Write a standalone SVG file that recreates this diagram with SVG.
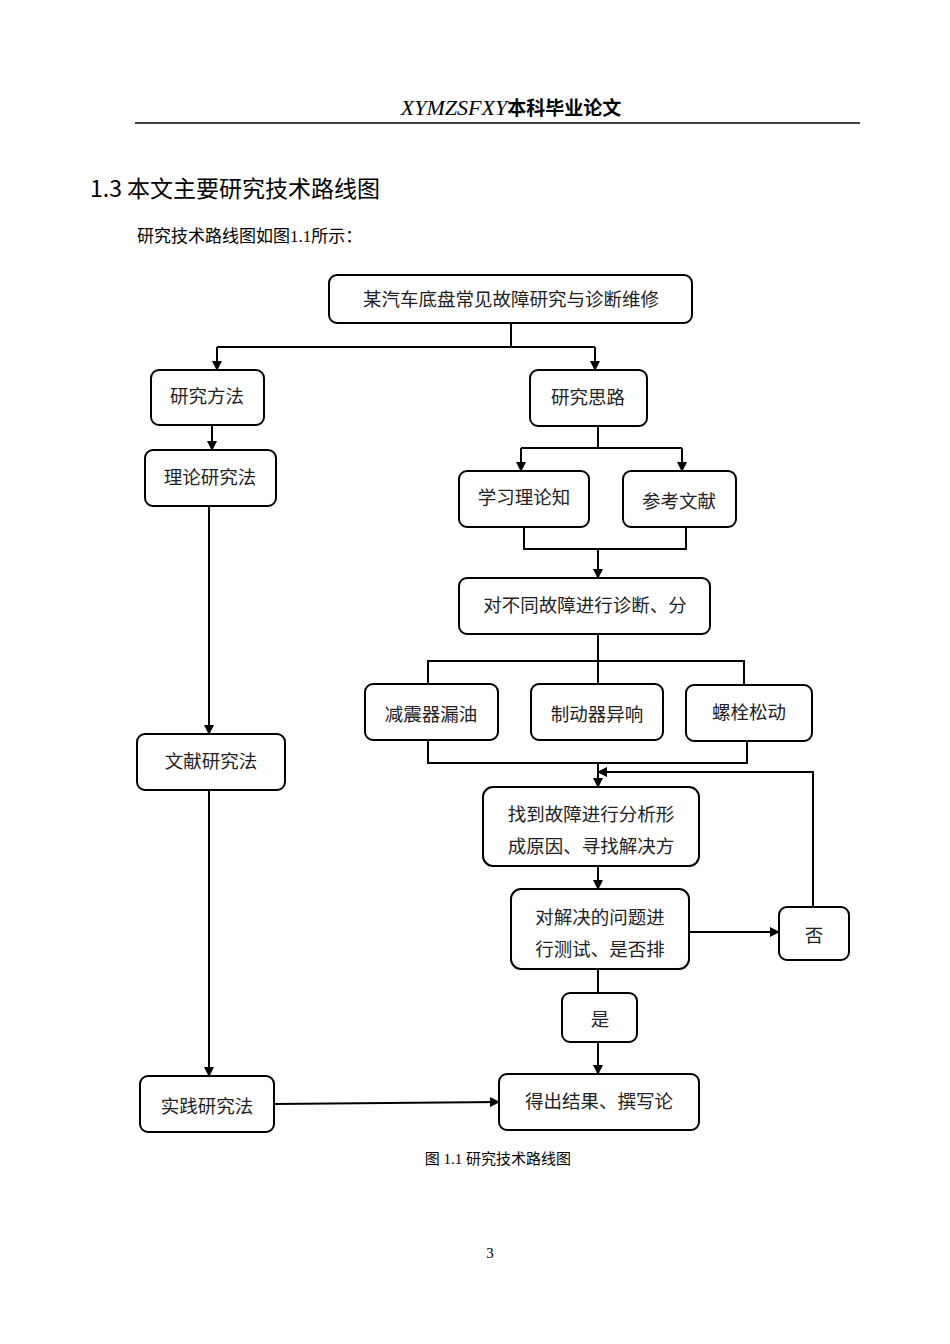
<svg xmlns="http://www.w3.org/2000/svg" width="950" height="1344" viewBox="0 0 950 1344">
<defs>
<marker id="ah" markerWidth="10" markerHeight="10" refX="9" refY="5" orient="auto" markerUnits="userSpaceOnUse"><path d="M0,0 L10,5 L0,10 z" fill="#000"/></marker>
<style>
.b{fill:#fff;stroke:#000;stroke-width:2}
.t{font-family:"Liberation Serif","Noto Sans CJK SC",serif;font-size:18.5px;text-anchor:middle;fill:#222}
.c{fill:none;stroke:#000;stroke-width:2}
.a{fill:none;stroke:#000;stroke-width:2;marker-end:url(#ah)}
</style>
</defs>
<rect width="950" height="1344" fill="#fff"/>
<text x="511" y="115" text-anchor="middle" font-family="Liberation Serif,'Noto Sans CJK SC',serif" font-size="22" font-style="italic">XYMZSFXY<tspan font-style="normal" font-weight="bold" font-family="'Noto Sans CJK SC',sans-serif" font-size="19">本科毕业论文</tspan></text>
<line x1="135" y1="123" x2="860" y2="123" stroke="#000" stroke-width="1.5"/>
<text x="90" y="197" font-family="'Noto Sans CJK SC',sans-serif" font-size="23">1.3  本文主要研究技术路线图</text>
<text x="137" y="242" font-family="'Liberation Serif','Noto Sans CJK SC',serif" font-size="17">研究技术路线图如图1.1所示：</text>
<g id="connectors">
<path class="c" d="M511,323 V347 H217 M511,347 H595"/>
<path class="a" d="M217,347 V370"/><path class="a" d="M595,347 V370"/>
<path class="a" d="M212,425 V450"/>
<path class="c" d="M598,426 V448 H521 M598,448 H682"/>
<path class="a" d="M521,448 V471"/><path class="a" d="M682,448 V471"/>
<path class="c" d="M524,527 V549 H686 V527"/>
<path class="a" d="M598,549 V578"/>
<path class="c" d="M598,634 V661 H428 V684 M598,661 H744 V685 M598,661 V684"/>
<path class="c" d="M428,740 V763 H747 V741"/>
<path class="a" d="M598,763 V787"/>
<path class="a" d="M813,907 V772 H598"/>
<path class="a" d="M598,866 V889"/>
<path class="a" d="M689,932 H779"/>
<path class="c" d="M598,969 V993"/>
<path class="a" d="M598,1042 V1074"/>
<path class="a" d="M209,506 V734"/>
<path class="a" d="M209,790 V1076"/>
<path class="a" d="M274,1104 L499,1102"/>
</g>
<g id="n1"><rect class="b" x="329" y="275" width="363" height="48" rx="8"/><text class="t" x="511" y="306">某汽车底盘常见故障研究与诊断维修</text></g>
<g id="n2"><rect class="b" x="151" y="370" width="113" height="55" rx="8"/><text class="t" x="207" y="403">研究方法</text></g>
<g id="n3"><rect class="b" x="530" y="370" width="117" height="56" rx="8"/><text class="t" x="588" y="404">研究思路</text></g>
<g id="n4"><rect class="b" x="145" y="450" width="131" height="56" rx="8"/><text class="t" x="210" y="484">理论研究法</text></g>
<g id="n5"><rect class="b" x="459" y="471" width="130" height="56" rx="8"/><text class="t" x="524" y="504">学习理论知</text></g>
<g id="n6"><rect class="b" x="623" y="471" width="113" height="56" rx="8"/><text class="t" x="679" y="508">参考文献</text></g>
<g id="n7"><rect class="b" x="459" y="578" width="251" height="56" rx="8"/><text class="t" x="585" y="612">对不同故障进行诊断、分</text></g>
<g id="n8"><rect class="b" x="365" y="684" width="133" height="56" rx="8"/><text class="t" x="431" y="721">减震器漏油</text></g>
<g id="n9"><rect class="b" x="531" y="684" width="132" height="56" rx="8"/><text class="t" x="597" y="721">制动器异响</text></g>
<g id="n10"><rect class="b" x="686" y="685" width="126" height="56" rx="8"/><text class="t" x="749" y="719">螺栓松动</text></g>
<g id="n11"><rect class="b" x="483" y="787" width="216" height="79" rx="10"/><text class="t" x="591" y="821">找到故障进行分析形</text><text class="t" x="591" y="853">成原因、寻找解决方</text></g>
<g id="n12"><rect class="b" x="511" y="889" width="178" height="80" rx="10"/><text class="t" x="600" y="924">对解决的问题进</text><text class="t" x="600" y="956">行测试、是否排</text></g>
<g id="n13"><rect class="b" x="779" y="907" width="70" height="53" rx="8"/><text class="t" x="814" y="942">否</text></g>
<g id="n14"><rect class="b" x="562" y="993" width="75" height="49" rx="8"/><text class="t" x="600" y="1026">是</text></g>
<g id="n15"><rect class="b" x="499" y="1074" width="200" height="56" rx="8"/><text class="t" x="599" y="1108">得出结果、撰写论</text></g>
<g id="n16"><rect class="b" x="137" y="734" width="148" height="56" rx="8"/><text class="t" x="211" y="768">文献研究法</text></g>
<g id="n17"><rect class="b" x="140" y="1076" width="134" height="56" rx="8"/><text class="t" x="207" y="1113">实践研究法</text></g>
<text x="498" y="1164" text-anchor="middle" font-family="'Liberation Serif','Noto Sans CJK SC',serif" font-size="15">图 1.1  研究技术路线图</text>
<text x="490" y="1258" text-anchor="middle" font-family="'Liberation Serif',serif" font-size="15">3</text>
</svg>
